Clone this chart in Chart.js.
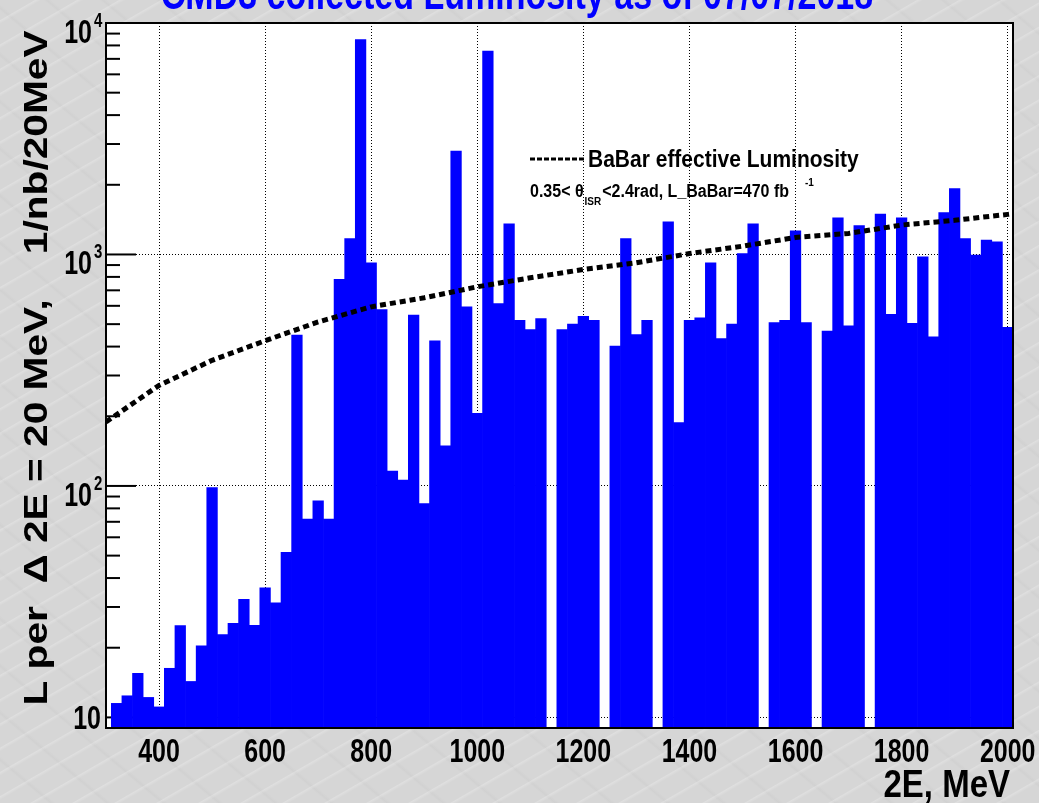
<!DOCTYPE html>
<html>
<head>
<meta charset="utf-8">
<title>CMD3 collected Luminosity</title>
<script src="https://cdn.jsdelivr.net/npm/chart.js@4.4.1/dist/chart.umd.min.js"></script>
<style>
  html, body { margin: 0; padding: 0; }
  body {
    width: 1039px; height: 803px; overflow: hidden;
    background-color: #d6d6d6;
    background-image:
      repeating-linear-gradient(150deg, rgba(255,255,255,0) 0px, rgba(255,255,255,0) 17px, rgba(255,255,255,0.22) 18px, rgba(255,255,255,0) 21px),
      repeating-linear-gradient(40deg, rgba(120,120,120,0) 0px, rgba(120,120,120,0) 31px, rgba(120,120,120,0.05) 33px, rgba(120,120,120,0) 36px);
  }
  #wrap { position: relative; width: 1039px; height: 803px; }
</style>
</head>
<body>
<div id="wrap"><canvas id="lumiChart"></canvas></div>
<script>
// centres of the 20 MeV bins, MeV
const binCenters = [
  320, 340, 360, 380, 400, 420, 440, 460, 480, 500,
  520, 540, 560, 580, 600, 620, 640, 660, 680, 700,
  720, 740, 760, 780, 800, 820, 840, 860, 880, 900,
  920, 940, 960, 980, 1000, 1020, 1040, 1060, 1080, 1100,
  1120, 1140, 1160, 1180, 1200, 1220, 1240, 1260, 1280, 1300,
  1320, 1340, 1360, 1380, 1400, 1420, 1440, 1460, 1480, 1500,
  1520, 1540, 1560, 1580, 1600, 1620, 1640, 1660, 1680, 1700,
  1720, 1740, 1760, 1780, 1800, 1820, 1840, 1860, 1880, 1900,
  1920, 1940, 1960, 1980, 2000
];
// CMD3 luminosity per bin, 1/nb (null = empty bin)
const cmdLumi = [
  11.5, 12.4, 15.5, 12.2, 11.1, 16.3, 24.9, 14.3, 20.4, 98.5,
  22.8, 25.5, 32.4, 25.0, 36.3, 31.3, 51.6, 448, 71.9, 86.2,
  71.9, 780, 1172, 8490, 920, 578, 116, 106, 547, 84,
  424, 149, 2794, 594, 206, 7570, 614, 1355, 520, 474,
  529, null, 474, 500, 541, 520, null, 402, 1172, 451,
  520, null, 1384, 188, 520, 532, 920, 433, 500, 1009,
  1355, null, 508, 520, 1264, 508, null, 467, 1438, 492,
  1333, null, 1494, 551, 1438, 504, 977, 441, 1517, 1927,
  1172, 993, 1153, 1133, 484
];
// BaBar effective luminosity curve
const babarEnergy = [300, 400, 500, 600, 700, 800, 900, 1000, 1100, 1200, 1300, 1400, 1500, 1600, 1700, 1800, 1900, 2000, 2010];
const babarLumi   = [189, 272, 349, 424, 511, 594, 650, 725, 793, 861, 921, 1009, 1086, 1184, 1233, 1340, 1405, 1490, 1500];

const xTickValues = [400, 600, 800, 1000, 1200, 1400, 1600, 1800, 2000];
const yTickValues = [10, 100, 1000, 10000];
const yTickExponents = ['', '2', '3', '4'];

const FONT = '"Liberation Sans", Arial, Helvetica, sans-serif';

function drawText(ctx, s, x, y, size, o) {
  o = o || {};
  ctx.save();
  ctx.font = 'bold ' + size + 'px ' + FONT;
  ctx.fillStyle = o.color || '#000';
  ctx.textAlign = o.align || 'left';
  ctx.textBaseline = o.baseline || 'alphabetic';
  ctx.translate(x, y);
  if (o.rotate) ctx.rotate(o.rotate);
  ctx.scale(o.sx || 1, o.sy || 1);
  ctx.fillText(s, 0, 0);
  ctx.restore();
}
function textWidth(ctx, s, size) {
  ctx.save();
  ctx.font = 'bold ' + size + 'px ' + FONT;
  const w = ctx.measureText(s).width;
  ctx.restore();
  return w;
}

// ROOT-like frame, ticks and texts
const rootStyle = {
  id: 'rootStyle',
  beforeDraw(chart) {
    const { ctx, chartArea: a } = chart;
    ctx.save();
    ctx.fillStyle = '#ffffff';
    ctx.fillRect(a.left, a.top, a.right - a.left, a.bottom - a.top);
    ctx.restore();
  },
  beforeDatasetsDraw(chart) {
    const { ctx, chartArea: a } = chart;
    const y = chart.scales.y;
    ctx.save();
    ctx.strokeStyle = '#000';
    ctx.lineWidth = 2;
    // major ticks
    yTickValues.forEach(v => {
      const py = y.getPixelForValue(v);
      ctx.beginPath(); ctx.moveTo(a.left, py); ctx.lineTo(a.left + 30, py); ctx.stroke();
    });
    // minor ticks
    [10, 100, 1000].forEach(dec => {
      for (let m = 2; m <= 9; m++) {
        const py = y.getPixelForValue(m * dec);
        ctx.beginPath(); ctx.moveTo(a.left, py); ctx.lineTo(a.left + 14, py); ctx.stroke();
      }
    });
    ctx.restore();
  },
  afterDraw(chart) {
    const { ctx, chartArea: a } = chart;
    const xs = chart.scales.x, ys = chart.scales.y;

    // frame
    ctx.save();
    ctx.strokeStyle = '#000';
    ctx.lineWidth = 2;
    ctx.strokeRect(a.left, a.top, a.right - a.left, a.bottom - a.top);
    ctx.restore();

    // x tick labels
    xTickValues.forEach(v => {
      drawText(ctx, String(v), xs.getPixelForValue(v), 762, 25, { align: 'center', sy: 1.3 });
    });
    // y tick labels 10, 10^2 ...
    yTickValues.forEach((v, i) => {
      const py = ys.getPixelForValue(v);
      if (!yTickExponents[i]) {
        drawText(ctx, '10', 101, py + 12, 25, { align: 'right', sy: 1.3 });
      } else {
        drawText(ctx, '10', 92, py + 20, 25, { align: 'right', sy: 1.3 });
        drawText(ctx, yTickExponents[i], 94, py + 4, 15, { align: 'left', sy: 1.3 });
      }
    });

    // axis titles
    drawText(ctx, '2E, MeV', 1010, 797, 33, { align: 'right', sy: 1.15 });
    const yTitle = 'L per  \u0394 2E = 20 MeV,    1/nb/20MeV';
    const yw = textWidth(ctx, yTitle, 32);
    drawText(ctx, yTitle, 38, 368, 32, { align: 'center', baseline: 'middle', rotate: -Math.PI / 2, sx: 675 / yw, sy: 1.05 });

    // title (cut by the top edge)
    drawText(ctx, 'CMD3 collected Luminosity as of 07/07/2018', 517, 9, 34, { align: 'center', sy: 1.3, color: '#0000ff' });

    // legend
    ctx.save();
    ctx.strokeStyle = '#000';
    ctx.lineWidth = 3;
    ctx.setLineDash([5, 2]);
    ctx.beginPath(); ctx.moveTo(530, 159); ctx.lineTo(585, 159); ctx.stroke();
    ctx.restore();
    drawText(ctx, 'BaBar effective Luminosity', 588, 167, 21, { sy: 1.15 });

    let lx = 530;
    const part1 = '0.35< \u03b8';
    drawText(ctx, part1, lx, 197, 16, { sy: 1.15 });
    lx += textWidth(ctx, part1, 16) + 1;
    drawText(ctx, 'ISR', lx, 205, 10, { sy: 1.15 });
    lx += textWidth(ctx, 'ISR', 10) + 1;
    const part2 = '<2.4rad, L_BaBar=470 fb';
    drawText(ctx, part2, lx, 197, 16, { sy: 1.15 });
    lx += textWidth(ctx, part2, 16) + 16;
    drawText(ctx, '-1', lx, 186, 10, { sy: 1.15 });
  }
};

const ctx = document.getElementById('lumiChart').getContext('2d');
new Chart(ctx, {
  type: 'bar',
  data: {
    datasets: [
      {
        type: 'line',
        label: 'BaBar effective Luminosity',
        data: babarEnergy.map((e, i) => ({ x: e, y: babarLumi[i] })),
        borderColor: '#000000',
        borderWidth: 5,
        borderDash: [6, 4],
        pointRadius: 0,
        fill: false,
        tension: 0,
        order: 0
      },
      {
        type: 'bar',
        label: 'CMD3',
        data: binCenters.map((e, i) => ({ x: e, y: cmdLumi[i] })),
        backgroundColor: '#0000ff',
        borderWidth: 0,
        barPercentage: 1,
        categoryPercentage: 1,
        order: 1
      }
    ]
  },
  options: {
    responsive: true,
    maintainAspectRatio: false,
    animation: false,
    layout: { padding: { left: 106, top: 23, right: 26, bottom: 75 } },
    plugins: { legend: { display: false }, tooltip: { enabled: false } },
    scales: {
      x: {
        type: 'linear',
        min: 300,
        max: 2010,
        offset: false,
        afterBuildTicks: s => { s.ticks = xTickValues.map(v => ({ value: v })); },
        afterFit: s => { s.height = 0; },
        ticks: { display: false },
        grid: { color: '#000', lineWidth: 1, drawTicks: false, offset: false },
        border: { display: false, dash: [1, 2] }
      },
      y: {
        type: 'logarithmic',
        min: 9,
        max: 10000,
        afterBuildTicks: s => { s.ticks = yTickValues.map(v => ({ value: v })); },
        afterFit: s => { s.width = 0; },
        ticks: { display: false },
        grid: { color: '#000', lineWidth: 1, drawTicks: false },
        border: { display: false, dash: [1, 2] }
      }
    }
  },
  plugins: [rootStyle]
});
</script>
</body>
</html>
